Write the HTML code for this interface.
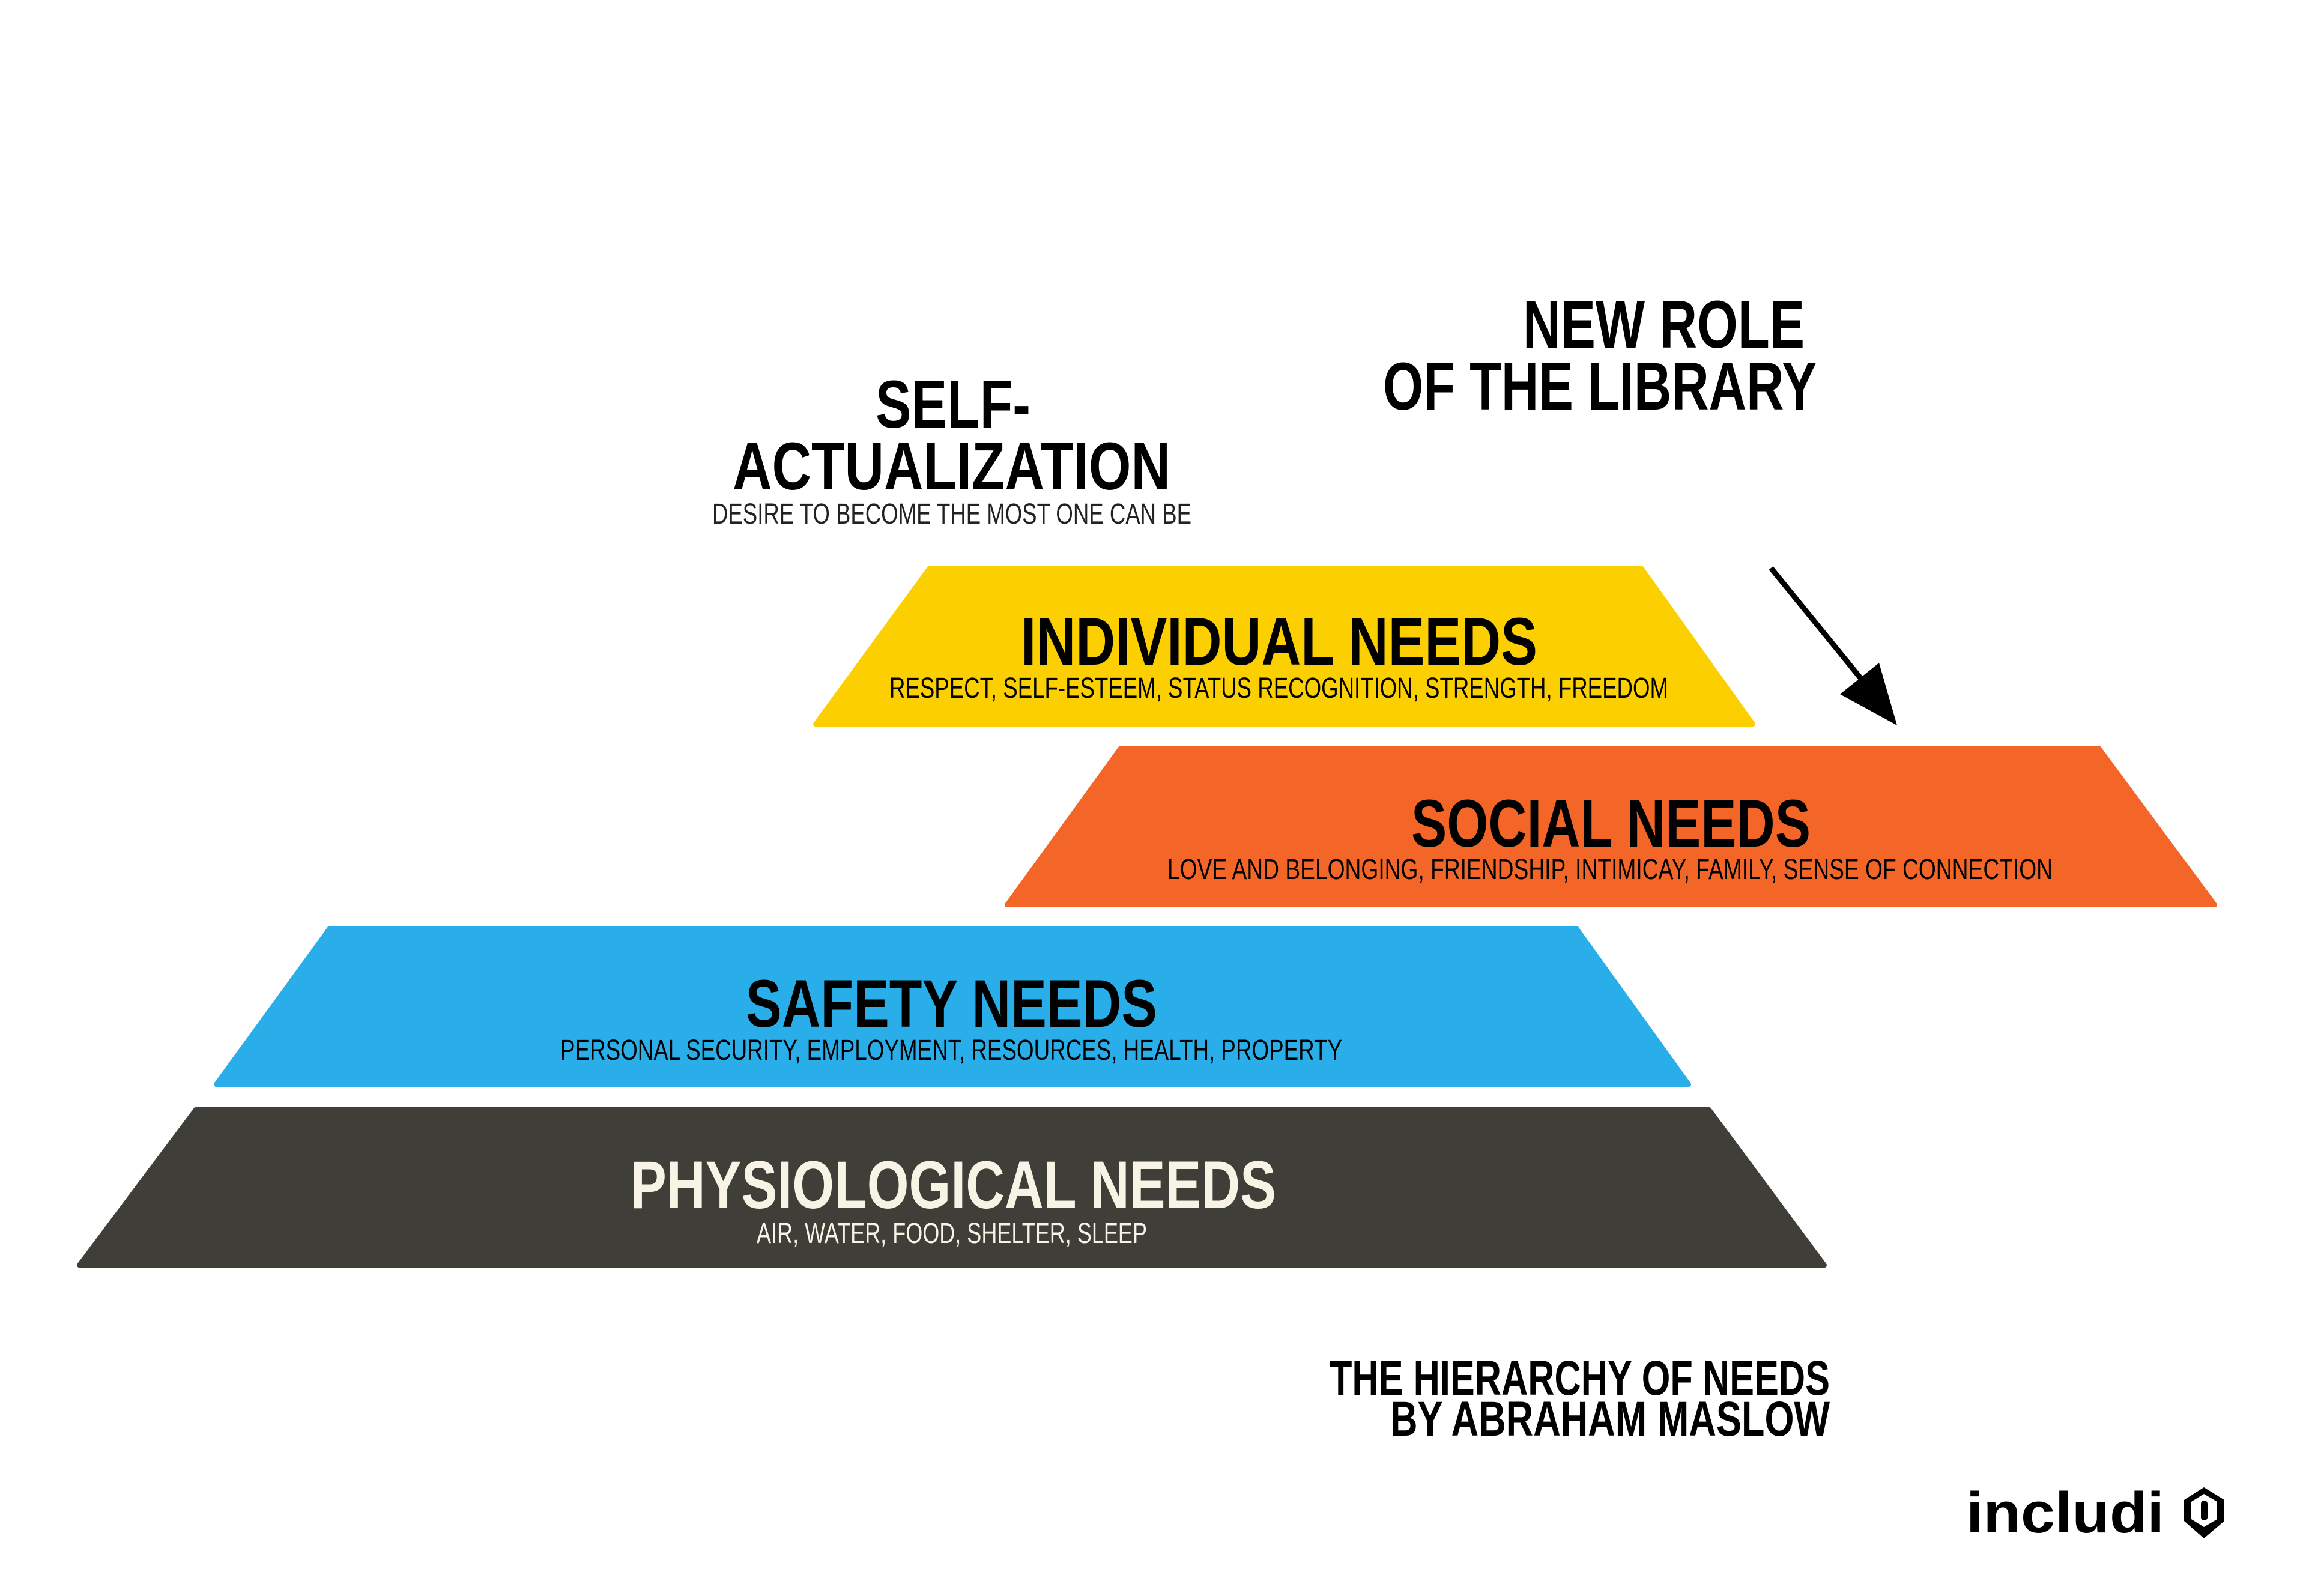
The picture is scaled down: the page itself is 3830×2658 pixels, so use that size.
<!DOCTYPE html>
<html><head><meta charset="utf-8"><style>
html,body{margin:0;padding:0;background:#fff;}
svg{display:block;}
text{font-family:"Liberation Sans",sans-serif;}
.h{font-weight:bold;font-size:112px;}
.s{font-size:48px;}
</style></head><body>
<svg width="3830" height="2658" viewBox="0 0 3830 2658" xmlns="http://www.w3.org/2000/svg">
<g stroke-linejoin="round" stroke-width="8">
<polygon points="1548,946 2733,946 2919,1206 1358,1206" fill="#fccf00" stroke="#fccf00"/>
<polygon points="1866,1246 3495,1246 3688,1507 1677,1507" fill="#f46628" stroke="#f46628"/>
<polygon points="549,1546 2625,1546 2812,1806 360,1806" fill="#29aee9" stroke="#29aee9"/>
<polygon points="326,1848 2846,1848 3038,2107 132,2107" fill="#3f3e38" stroke="#3f3e38"/>
</g>
<text class="h" x="1700" y="1107" textLength="860" lengthAdjust="spacingAndGlyphs">INDIVIDUAL NEEDS</text>
<text class="s" x="1481" y="1162" textLength="1297" lengthAdjust="spacingAndGlyphs">RESPECT, SELF-ESTEEM, STATUS RECOGNITION, STRENGTH, FREEDOM</text>
<text class="h" x="2350" y="1410" textLength="665" lengthAdjust="spacingAndGlyphs">SOCIAL NEEDS</text>
<text class="s" x="1944" y="1464" textLength="1474" lengthAdjust="spacingAndGlyphs">LOVE AND BELONGING, FRIENDSHIP, INTIMICAY, FAMILY, SENSE OF CONNECTION</text>
<text class="h" x="1242" y="1710" textLength="685" lengthAdjust="spacingAndGlyphs">SAFETY NEEDS</text>
<text class="s" x="933" y="1765" textLength="1302" lengthAdjust="spacingAndGlyphs">PERSONAL SECURITY, EMPLOYMENT, RESOURCES, HEALTH, PROPERTY</text>
<text class="h" x="1050" y="2012" fill="#f7f4e6" textLength="1075" lengthAdjust="spacingAndGlyphs">PHYSIOLOGICAL NEEDS</text>
<text class="s" x="1260" y="2070" fill="#f7f4e6" textLength="650" lengthAdjust="spacingAndGlyphs">AIR, WATER, FOOD, SHELTER, SLEEP</text>

<text class="h" x="1458" y="712" textLength="258" lengthAdjust="spacingAndGlyphs">SELF-</text>
<text class="h" x="1220" y="815" textLength="729" lengthAdjust="spacingAndGlyphs">ACTUALIZATION</text>
<text class="s" x="1186" y="872" fill="#222" textLength="798" lengthAdjust="spacingAndGlyphs">DESIRE TO BECOME THE MOST ONE CAN BE</text>

<text class="h" x="2536" y="579" textLength="469" lengthAdjust="spacingAndGlyphs">NEW ROLE</text>
<text class="h" x="2303" y="682" textLength="722" lengthAdjust="spacingAndGlyphs">OF THE LIBRARY</text>

<text x="2214" y="2323" font-weight="bold" font-size="82" textLength="833" lengthAdjust="spacingAndGlyphs">THE HIERARCHY OF NEEDS</text>
<text x="2315" y="2391" font-weight="bold" font-size="82" textLength="732" lengthAdjust="spacingAndGlyphs">BY ABRAHAM MASLOW</text>

<line x1="2949" y1="946" x2="3115" y2="1150" stroke="#000" stroke-width="9"/>
<polygon points="3159,1208 3064,1156 3129,1104" fill="#000"/>

<text x="3274" y="2552" font-weight="bold" font-size="96" textLength="330" lengthAdjust="spacingAndGlyphs">includi</text>
<path d="M3670,2477 L3704,2498 L3704,2533 L3670,2562 L3637,2533 L3637,2498 Z M3670,2488 L3649,2501 L3649,2530 L3670,2543 L3692,2530 L3692,2501 Z" fill="#000" fill-rule="evenodd"/>
<rect x="3665" y="2499" width="11" height="33" rx="5" fill="#000"/>
</svg>
</body></html>
